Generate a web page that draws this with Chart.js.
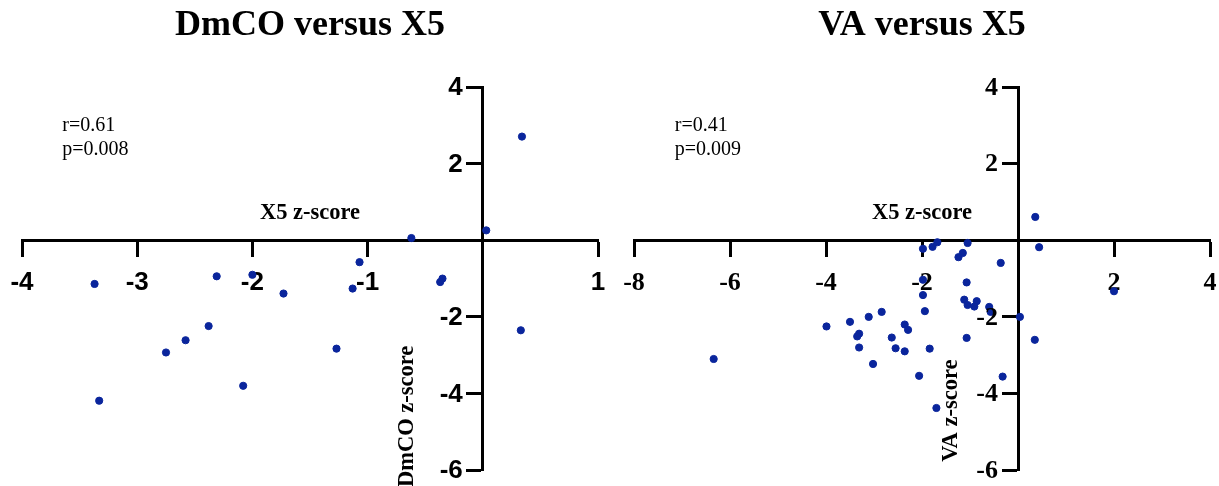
<!DOCTYPE html>
<html lang="en">
<head>
    <title>DmCO / VA versus X5</title>
    <meta charset="utf-8">
    <script src="https://cdn.jsdelivr.net/npm/chart.js@4.4.1/dist/chart.umd.min.js"></script>
    <style>
        body { margin: 0; background: #fff; }
        .panel { position: absolute; top: 0; }
    </style>
</head>
<body>

<div class="panel" style="left:0px"><canvas id="dmco-chart" width="610" height="486"></canvas></div>
<div class="panel" style="left:610px"><canvas id="va-chart" width="609" height="486"></canvas></div>

<script>
// DmCO versus X5 (x = X5 z-score, y = DmCO z-score)
var dmcoX = [0.34, 0.03, -0.62, -1.07, -0.35, -0.37, -1.13, -1.73, -2.0, -2.31, -3.37, 0.33, -2.38, -2.58, -2.75, -1.27, -2.08, -3.33];
var dmcoY = [2.71, 0.26, 0.06, -0.57, -1.0, -1.09, -1.26, -1.39, -0.9, -0.94, -1.14, -2.35, -2.24, -2.61, -2.93, -2.83, -3.8, -4.19];

// VA versus X5
var vaX = [0.36, 0.44, -1.98, -1.78, -1.68, -1.05, -1.15, -1.24, -0.36, -1.98, -1.07, -1.98, 2.0, -1.12,
           -1.05, -0.86, -0.91, -0.6, -0.57, -1.94, 0.04, -2.84, -3.11, -3.5, -3.99, -2.36, -2.29, -3.31,
           -3.35, -2.63, -1.07, 0.35, -3.31, -2.55, -2.36, -1.84, -6.34, -3.02, -2.06, -0.32, -1.7];
var vaY = [0.61, -0.18, -0.22, -0.17, -0.05, -0.07, -0.33, -0.44, -0.59, -1.03, -1.1, -1.43, -1.33, -1.55,
           -1.69, -1.59, -1.73, -1.74, -1.87, -1.85, -2.0, -1.87, -2.0, -2.13, -2.25, -2.2, -2.34, -2.44,
           -2.51, -2.54, -2.55, -2.6, -2.8, -2.82, -2.9, -2.83, -3.1, -3.23, -3.54, -3.56, -4.38];

var dmcoXTicks = [-4, -3, -2, -1, 1];
var dmcoYTicks = [-6, -4, -2, 2, 4];
var vaXTicks = [-8, -6, -4, -2, 2, 4];
var vaYTicks = [-6, -4, -2, 2, 4];

var POINT_COLOR = '#0a259c';
var SERIF = "'Liberation Serif', 'Times New Roman', serif";
var SANS = "'Liberation Sans', Arial, sans-serif";

function toPoints(xs, ys) {
  return xs.map(function (x, i) { return { x: x, y: ys[i] }; });
}

// y tick labels (left of the centred axis), stats text and axis titles
var notesPlugin = {
  id: 'notes',
  afterDraw: function (chart, args, opts) {
    var ctx = chart.ctx;
    var xs = chart.scales.x, ys = chart.scales.y;
    var axisX = xs.getPixelForValue(0);

    ctx.save();
    ctx.fillStyle = '#000';
    ctx.font = opts.yTickFont;
    ctx.textAlign = 'right';
    ctx.textBaseline = 'middle';
    ys.ticks.forEach(function (t) {
      ctx.fillText(String(t.value), axisX - opts.yTickGap, ys.getPixelForValue(t.value) + 1);
    });
    ctx.restore();

    (opts.items || []).forEach(function (n) {
      ctx.save();
      ctx.fillStyle = '#000';
      ctx.font = n.font;
      ctx.textAlign = n.align || 'left';
      ctx.textBaseline = 'middle';
      ctx.translate(xs.getPixelForValue(n.x), ys.getPixelForValue(n.y));
      if (n.rotate) ctx.rotate(n.rotate);
      n.lines.forEach(function (line, i) {
        ctx.fillText(line, 0, i * (n.lineGap || 0));
      });
      ctx.restore();
    });
  }
};

function makeChart(id, opts) {
  var tickFont = { family: opts.tickFamily, size: 26, weight: 'bold' };
  var tickGrid = { drawOnChartArea: false, drawTicks: true, tickLength: 15, tickWidth: 3, tickColor: '#000' };
  return new Chart(document.getElementById(id), {
    type: 'scatter',
    data: {
      datasets: [{
        data: toPoints(opts.xs, opts.ys),
        backgroundColor: POINT_COLOR,
        borderColor: POINT_COLOR,
        pointRadius: 3.6,
        pointHoverRadius: 3.6
      }]
    },
    options: {
      responsive: false,
      animation: false,
      clip: false,
      layout: { padding: opts.padding },
      plugins: {
        legend: { display: false },
        tooltip: { enabled: false },
        title: {
          display: true,
          text: opts.title,
          color: '#000',
          font: { family: SERIF, size: 36, weight: 'bold' },
          padding: { top: 4, bottom: 40 }
        },
        notes: {
          yTickFont: 'bold 26px ' + opts.tickFamily,
          yTickGap: 20,
          items: opts.notes
        }
      },
      scales: {
        x: {
          type: 'linear',
          min: opts.xMin,
          max: opts.xMax,
          position: { y: 0 },
          afterBuildTicks: function (axis) {
            axis.ticks = opts.xTicks.map(function (v) { return { value: v }; });
          },
          // let layout.padding alone decide the plot width
          afterFit: function (axis) {
            axis.paddingLeft = 0;
            axis.paddingRight = 0;
          },
          ticks: { color: '#000', font: tickFont, padding: 12, maxRotation: 0, autoSkip: false },
          grid: tickGrid,
          border: { display: true, color: '#000', width: 3 }
        },
        y: {
          type: 'linear',
          min: -6,
          max: 4,
          position: { x: 0 },
          afterBuildTicks: function (axis) {
            axis.ticks = opts.yTicks.map(function (v) { return { value: v }; });
          },
          afterFit: function (axis) {
            axis.paddingTop = 0;
            axis.paddingBottom = 0;
          },
          ticks: { display: false },
          grid: tickGrid,
          border: { display: true, color: '#000', width: 3 }
        }
      }
    },
    plugins: [notesPlugin]
  });
}

makeChart('dmco-chart', {
  title: 'DmCO versus X5',
  xs: dmcoX, ys: dmcoY,
  xMin: -4, xMax: 1,
  xTicks: dmcoXTicks, yTicks: dmcoYTicks,
  tickFamily: SANS,
  padding: { top: 0, bottom: 16, left: 22, right: 12 },
  notes: [
    { lines: ['r=0.61', 'p=0.008'], x: -3.65, y: 3.0, lineGap: 24, font: '20px ' + SERIF },
    { lines: ['X5 z-score'], x: -1.5, y: 0.72, align: 'center', font: 'bold 22.5px ' + SERIF },
    { lines: ['DmCO z-score'], x: -0.66, y: -4.6, align: 'center', rotate: -Math.PI / 2, font: 'bold 22.5px ' + SERIF }
  ]
});

makeChart('va-chart', {
  title: 'VA versus X5',
  xs: vaX, ys: vaY,
  xMin: -8, xMax: 4,
  xTicks: vaXTicks, yTicks: vaYTicks,
  tickFamily: SERIF,
  padding: { top: 0, bottom: 16, left: 24, right: 9 },
  notes: [
    { lines: ['r=0.41', 'p=0.009'], x: -7.15, y: 3.0, lineGap: 24, font: '20px ' + SERIF },
    { lines: ['X5 z-score'], x: -2.0, y: 0.72, align: 'center', font: 'bold 22.5px ' + SERIF },
    { lines: ['VA z-score'], x: -1.4, y: -4.45, align: 'center', rotate: -Math.PI / 2, font: 'bold 22.5px ' + SERIF }
  ]
});
</script>
</body>
</html>
